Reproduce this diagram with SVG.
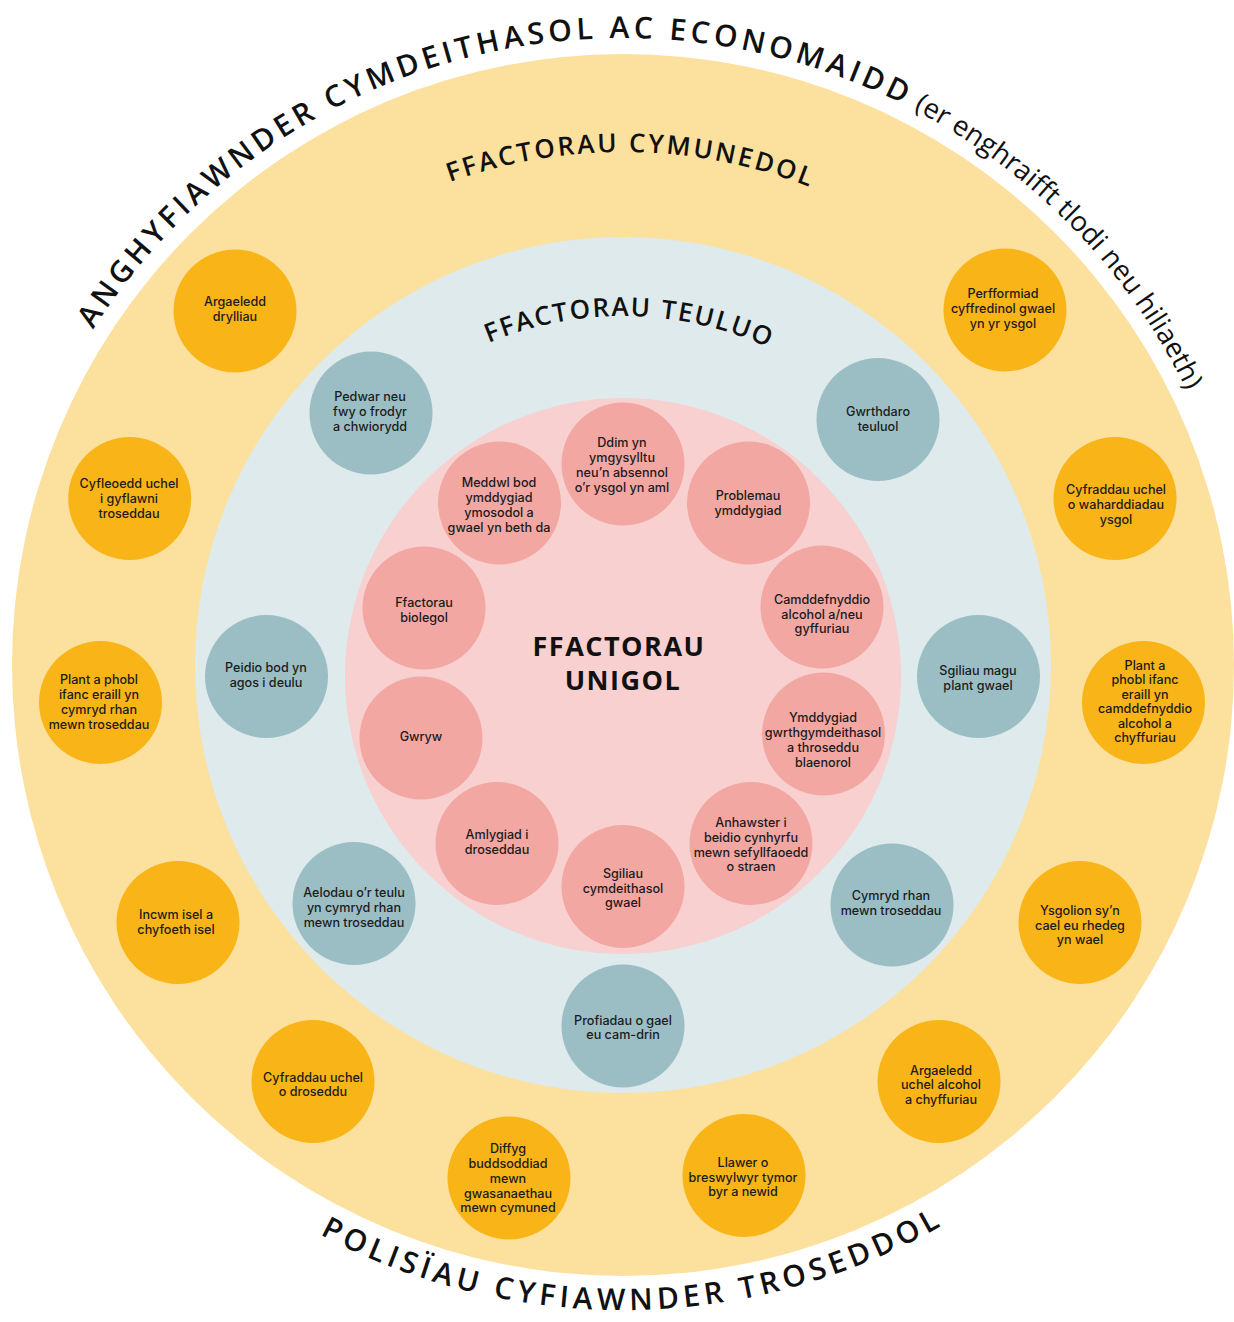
<svg xmlns="http://www.w3.org/2000/svg" width="1234" height="1322" viewBox="0 0 1234 1322">
<style>
.bg{fill:#ffffff}
.band-y{fill:#FCE09E}
.band-b{fill:#DEEAEB}
.band-p{fill:#F8D0CF}
.n-o{fill:#F9B418}
.n-b{fill:#9BBEC4}
.n-p{fill:#F2A7A3}
.t{font-family:Inter,"Open Sans","Noto Sans","Liberation Sans",sans-serif;font-size:12.6px;font-weight:500;fill:#1b1b1b;text-anchor:middle}
.h{font-family:"Open Sans","Noto Sans","Liberation Sans",sans-serif;font-weight:600;fill:#111111}
.big{font-size:30px;letter-spacing:4.2px}
.mid{font-size:26px;letter-spacing:2.6px}
.low{font-family:"Open Sans","Noto Sans","Liberation Sans",sans-serif;font-size:27.5px;font-weight:400;letter-spacing:0px}
.center{font-family:"Open Sans","Noto Sans","Liberation Sans",sans-serif;font-size:27px;font-weight:700;letter-spacing:1.5px;fill:#111111;text-anchor:middle}
</style>
<defs>
<path id="arcTop" d="M 33.8 450.6 A 627 627 0 0 1 1247.6 610.3"/>
<path id="arcCom" d="M 110 665 A 513 513 0 0 1 1136 665"/>
<path id="arcFam" d="M 274 665 A 349 349 0 0 1 972 665"/>
<path id="arcBot" d="M 64.4 987.5 A 645 645 0 0 0 1181.6 987.5"/>
</defs>
<rect class="bg" x="0" y="0" width="1234" height="1322"/>
<g id="rings">
<circle class="band-y" cx="623" cy="665" r="611"/>
<circle class="band-b" cx="623" cy="665" r="428"/>
<circle class="band-p" cx="623" cy="676" r="278"/>
</g>
<g id="ring-labels">
<text class="h big"><textPath href="#arcTop" startOffset="135">ANGHYFIAWNDER CYMDEITHASOL AC ECONOMAIDD<tspan class="low"> (er enghraifft tlodi neu hiliaeth)</tspan></textPath></text>
<text class="h mid" text-anchor="middle"><textPath href="#arcCom" startOffset="50.5%">FFACTORAU CYMUNEDOL</textPath></text>
<text class="h mid" text-anchor="middle" style="letter-spacing:1.9px"><textPath href="#arcFam" startOffset="50.6%">FFACTORAU TEULUO</textPath></text>
<text class="h big" text-anchor="middle" style="letter-spacing:4.6px"><textPath href="#arcBot" startOffset="50.8%">POLISÏAU CYFIAWNDER TROSEDDOL</textPath></text>
<text class="center" x="619" y="656">FFACTORAU</text>
<text class="center" x="623" y="690">UNIGOL</text>
</g>
<g id="connectors"/>
<!-- community factors -->
<g id="c-argaeledd-drylliau"><circle class="n-o" cx="235" cy="311" r="61.5"/><text class="t"><tspan x="235" y="306">Argaeledd</tspan><tspan x="235" y="321">drylliau</tspan></text></g>
<g id="c-perfformiad"><circle class="n-o" cx="1005" cy="310" r="61.5"/><text class="t"><tspan x="1003" y="298">Perfformiad</tspan><tspan x="1003" y="313">cyffredinol gwael</tspan><tspan x="1003" y="328">yn yr ysgol</tspan></text></g>
<g id="c-cyfleoedd"><circle class="n-o" cx="129.7" cy="498.5" r="61.5"/><text class="t"><tspan x="129" y="487.5">Cyfleoedd uchel</tspan><tspan x="129" y="502.5">i gyflawni</tspan><tspan x="129" y="517.5">troseddau</tspan></text></g>
<g id="c-gwaharddiadau"><circle class="n-o" cx="1115" cy="498.5" r="61.5"/><text class="t"><tspan x="1116" y="493.5">Cyfraddau uchel</tspan><tspan x="1116" y="508.5">o waharddiadau</tspan><tspan x="1116" y="523.5">ysgol</tspan></text></g>
<g id="c-plant-troseddau"><circle class="n-o" cx="100.5" cy="702.5" r="61.5"/><text class="t"><tspan x="99" y="683.5">Plant a phobl</tspan><tspan x="99" y="698.5">ifanc eraill yn</tspan><tspan x="99" y="713.5">cymryd rhan</tspan><tspan x="99" y="728.5">mewn troseddau</tspan></text></g>
<g id="c-plant-alcohol"><circle class="n-o" cx="1143.5" cy="702.5" r="61.5"/><text class="t"><tspan x="1145" y="669.5">Plant a</tspan><tspan x="1145" y="684">phobl ifanc</tspan><tspan x="1145" y="698.5">eraill yn</tspan><tspan x="1145" y="713">camddefnyddio</tspan><tspan x="1145" y="727.5">alcohol a</tspan><tspan x="1145" y="742">chyffuriau</tspan></text></g>
<g id="c-incwm"><circle class="n-o" cx="178" cy="922.5" r="61.5"/><text class="t"><tspan x="176" y="919">Incwm isel a</tspan><tspan x="176" y="934">chyfoeth isel</tspan></text></g>
<g id="c-ysgolion"><circle class="n-o" cx="1080" cy="922.5" r="61.5"/><text class="t"><tspan x="1080" y="915">Ysgolion sy’n</tspan><tspan x="1080" y="929.5">cael eu rhedeg</tspan><tspan x="1080" y="944">yn wael</tspan></text></g>
<g id="c-cyfraddau-troseddu"><circle class="n-o" cx="313" cy="1081.5" r="61.5"/><text class="t"><tspan x="313" y="1082">Cyfraddau uchel</tspan><tspan x="313" y="1096">o droseddu</tspan></text></g>
<g id="c-argaeledd-alcohol"><circle class="n-o" cx="939" cy="1081.5" r="61.5"/><text class="t"><tspan x="941" y="1074.5">Argaeledd</tspan><tspan x="941" y="1089">uchel alcohol</tspan><tspan x="941" y="1104">a chyffuriau</tspan></text></g>
<g id="c-diffyg"><circle class="n-o" cx="509" cy="1178" r="61.5"/><text class="t"><tspan x="508" y="1153">Diffyg</tspan><tspan x="508" y="1167.5">buddsoddiad</tspan><tspan x="508" y="1182.5">mewn</tspan><tspan x="508" y="1197.5">gwasanaethau</tspan><tspan x="508" y="1212">mewn cymuned</tspan></text></g>
<g id="c-llawer"><circle class="n-o" cx="744" cy="1175.5" r="61.5"/><text class="t"><tspan x="743" y="1167">Llawer o</tspan><tspan x="743" y="1181.5">breswylwyr tymor</tspan><tspan x="743" y="1196">byr a newid</tspan></text></g>
<!-- family factors -->
<g id="f-pedwar"><circle class="n-b" cx="371" cy="413" r="61.5"/><text class="t"><tspan x="370" y="400.5">Pedwar neu</tspan><tspan x="370" y="415.5">fwy o frodyr</tspan><tspan x="370" y="430.5">a chwiorydd</tspan></text></g>
<g id="f-gwrthdaro"><circle class="n-b" cx="878" cy="419.5" r="61.5"/><text class="t"><tspan x="878" y="415.5">Gwrthdaro</tspan><tspan x="878" y="430.5">teuluol</tspan></text></g>
<g id="f-peidio"><circle class="n-b" cx="266.5" cy="676.5" r="61.5"/><text class="t"><tspan x="266" y="672">Peidio bod yn</tspan><tspan x="266" y="687">agos i deulu</tspan></text></g>
<g id="f-sgiliau-magu"><circle class="n-b" cx="978.5" cy="676.5" r="61.5"/><text class="t"><tspan x="978" y="675">Sgiliau magu</tspan><tspan x="978" y="690">plant gwael</tspan></text></g>
<g id="f-aelodau"><circle class="n-b" cx="354" cy="903.5" r="61.5"/><text class="t"><tspan x="354" y="896.5">Aelodau o’r teulu</tspan><tspan x="354" y="911.5">yn cymryd rhan</tspan><tspan x="354" y="926.5">mewn troseddau</tspan></text></g>
<g id="f-cymryd"><circle class="n-b" cx="892" cy="905" r="61.5"/><text class="t"><tspan x="891" y="900">Cymryd rhan</tspan><tspan x="891" y="915">mewn troseddau</tspan></text></g>
<g id="f-profiadau"><circle class="n-b" cx="623" cy="1026" r="61.5"/><text class="t"><tspan x="623" y="1024.5">Profiadau o gael</tspan><tspan x="623" y="1038.5">eu cam-drin</tspan></text></g>
<!-- individual factors -->
<g id="i-ddim"><circle class="n-p" cx="623" cy="464" r="61.5"/><text class="t"><tspan x="622" y="447">Ddim yn</tspan><tspan x="622" y="462">ymgysylltu</tspan><tspan x="622" y="476.5">neu’n absennol</tspan><tspan x="622" y="491.5">o’r ysgol yn aml</tspan></text></g>
<g id="i-meddwl"><circle class="n-p" cx="499.5" cy="503" r="61.5"/><text class="t"><tspan x="499" y="486.5">Meddwl bod</tspan><tspan x="499" y="502">ymddygiad</tspan><tspan x="499" y="517">ymosodol a</tspan><tspan x="499" y="532">gwael yn beth da</tspan></text></g>
<g id="i-problemau"><circle class="n-p" cx="748.5" cy="503" r="61.5"/><text class="t"><tspan x="748" y="499.5">Problemau</tspan><tspan x="748" y="514.5">ymddygiad</tspan></text></g>
<g id="i-ffactorau"><circle class="n-p" cx="424" cy="608" r="61.5"/><text class="t"><tspan x="424" y="606.5">Ffactorau</tspan><tspan x="424" y="622">biolegol</tspan></text></g>
<g id="i-camddefnyddio"><circle class="n-p" cx="822" cy="607" r="61.5"/><text class="t"><tspan x="822" y="603.5">Camddefnyddio</tspan><tspan x="822" y="618.5">alcohol a/neu</tspan><tspan x="822" y="633">gyffuriau</tspan></text></g>
<g id="i-gwryw"><circle class="n-p" cx="421" cy="738" r="61.5"/><text class="t"><tspan x="421" y="741">Gwryw</tspan></text></g>
<g id="i-ymddygiad"><circle class="n-p" cx="823.5" cy="734" r="61.5"/><text class="t"><tspan x="823" y="722">Ymddygiad</tspan><tspan x="823" y="737">gwrthgymdeithasol</tspan><tspan x="823" y="752">a throseddu</tspan><tspan x="823" y="767">blaenorol</tspan></text></g>
<g id="i-amlygiad"><circle class="n-p" cx="497" cy="843.5" r="61.5"/><text class="t"><tspan x="497" y="838.5">Amlygiad i</tspan><tspan x="497" y="853.5">droseddau</tspan></text></g>
<g id="i-anhawster"><circle class="n-p" cx="751" cy="843.5" r="61.5"/><text class="t"><tspan x="751" y="827">Anhawster i</tspan><tspan x="751" y="842">beidio cynhyrfu</tspan><tspan x="751" y="856.5">mewn sefyllfaoedd</tspan><tspan x="751" y="871">o straen</tspan></text></g>
<g id="i-sgiliau"><circle class="n-p" cx="623" cy="886.5" r="61.5"/><text class="t"><tspan x="623" y="877.5">Sgiliau</tspan><tspan x="623" y="893">cymdeithasol</tspan><tspan x="623" y="907">gwael</tspan></text></g>
</svg>
